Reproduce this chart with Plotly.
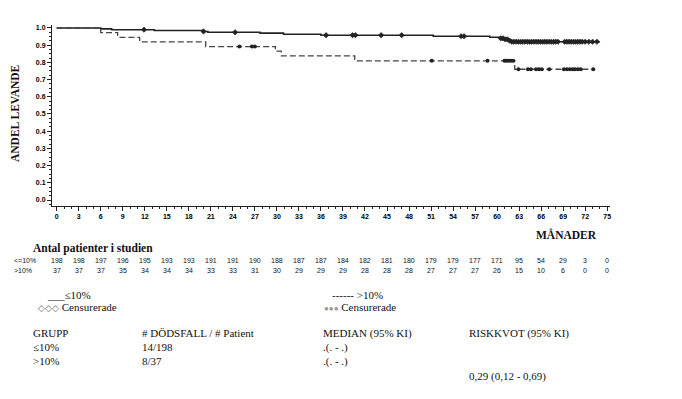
import numpy as np
import plotly.graph_objects as go

# ---------------- data ----------------
# Kaplan-Meier step curves (time in months, survival proportion)
times_le = [0, 6.0, 7.5, 13.3, 19.9, 20.6, 27.7, 30.9, 36.0, 51.3, 59.0, 60.3, 61.0, 61.5, 61.9, 74.0]
surv_le = [1.0, 0.995, 0.990, 0.985, 0.980, 0.975, 0.970, 0.964, 0.958, 0.952, 0.946, 0.940, 0.934, 0.927, 0.920, 0.920]

times_gt = [0, 6.0, 8.3, 11.3, 20.3, 29.8, 30.6, 40.6, 62.4, 73.1]
surv_gt = [1.0, 0.973, 0.946, 0.919, 0.892, 0.865, 0.838, 0.809, 0.760, 0.760]

# censoring times
cens_le = [11.9, 20.0, 24.3, 36.7, 40.3, 40.7, 44.2, 47.0, 55.1, 55.5, 60.5, 60.8,
           61.1, 61.4, 61.7, 62.0, 62.3, 62.6, 62.9, 63.2, 63.5, 63.8, 64.1, 64.4,
           64.7, 65.0, 65.3, 65.6, 65.9, 66.2, 66.5, 66.8, 67.1, 67.4, 67.7, 68.0,
           68.3, 69.2, 69.5, 69.8, 70.1, 70.4, 70.7, 71.0, 71.3, 71.6, 72.0, 72.5,
           73.0, 73.6]
cens_gt = [24.9, 26.6, 27.0, 51.1, 58.7, 61.0, 61.3, 61.6, 61.9, 62.2, 62.9, 64.2,
           64.6, 65.3, 65.7, 66.1, 67.1, 69.1, 69.5, 69.9, 70.3, 70.6, 71.0, 71.4, 73.1]

# number at risk
risk_times = list(range(0, 76, 3))
risk_le = [198, 198, 197, 196, 195, 193, 193, 191, 191, 190, 188, 187, 187,
           184, 182, 181, 180, 179, 179, 177, 171, 95, 54, 29, 3, 0]
risk_gt = [37, 37, 37, 35, 34, 34, 34, 33, 33, 31, 30, 29, 29,
           29, 28, 28, 28, 27, 27, 27, 26, 15, 10, 6, 0, 0]
risk_labels = ["<=10%", ">10%"]

x_ticks = list(range(0, 76, 3))
y_ticks = [round(v * 0.1, 1) for v in range(11)]

table_header = ["GRUPP", "# DÖDSFALL / # Patient", "MEDIAN (95% KI)", "RISKKVOT (95% KI)"]
table_rows = [["≤10%", "14/198", ".(. - .)"], [">10%", "8/37", ".(. - .)"]]
hazard_ratio = "0,29 (0,12 - 0,69)"

# ---------------- layout geometry ----------------
W, H = 682, 399
L, R, T, B = 52, 610, 25, 206   # plot area in pixels


def px_x(p):
    return (p - L) / (R - L)


def px_y(p):
    return (B - p) / (B - T)


def step_val(ts, ss, t):
    i = np.searchsorted(np.array(ts), t, side="right") - 1
    return ss[max(i, 0)]


fig = go.Figure()

fig.add_trace(go.Scatter(x=times_le, y=surv_le, mode="lines", line_shape="hv",
                         line=dict(color="#222222", width=1.6), showlegend=False))
fig.add_trace(go.Scatter(x=times_gt, y=surv_gt, mode="lines", line_shape="hv",
                         line=dict(color="#444444", width=1.3, dash="6px,3px"), showlegend=False))
fig.add_trace(go.Scatter(x=cens_le, y=[step_val(times_le, surv_le, t) for t in cens_le],
                         mode="markers", showlegend=False,
                         marker=dict(symbol="diamond", size=4, color="#222222",
                                     line=dict(width=0.8, color="#222222"))))
fig.add_trace(go.Scatter(x=cens_gt, y=[step_val(times_gt, surv_gt, t) for t in cens_gt],
                         mode="markers", showlegend=False,
                         marker=dict(symbol="circle", size=4, color="#222222")))

tickfont = dict(family="Arial, Liberation Sans", size=7, color="#000000", weight="bold")
fig.update_xaxes(range=[-0.64, 75.38], tickmode="array", tickvals=x_ticks,
                 ticktext=[f"<b>{v}</b>" for v in x_ticks], showline=True, linecolor="#222",
                 linewidth=1, ticks="outside", ticklen=4, tickcolor="#222",
                 tickfont=tickfont, showgrid=False, zeroline=False,
                 minor=dict(dtick=1, tick0=0, ticks="outside", ticklen=2, tickcolor="#222"))
fig.update_yaxes(range=[-0.0349, 1.0174], tickmode="array", tickvals=y_ticks,
                 ticktext=[f"<b>{v:.1f}</b>" for v in y_ticks], showline=True, linecolor="#222",
                 linewidth=1, ticks="outside", ticklen=4, tickcolor="#222",
                 tickfont=tickfont, showgrid=False, zeroline=False,
                 minor=dict(dtick=0.025, tick0=0, ticks="outside", ticklen=2, tickcolor="#222"))

serif = "'Times New Roman', 'Liberation Serif', serif"
ann = []
ann.append(dict(text="<b>ANDEL LEVANDE</b>", x=px_x(15), y=px_y(113), textangle=-90,
                font=dict(family=serif, size=11.5, color="#111")))
ann.append(dict(text="<b>MÅNADER</b>", x=px_x(599), y=px_y(234), xanchor="right",
                font=dict(family=serif, size=11.5, color="#111")))
ann.append(dict(text="<b>Antal patienter i studien</b>", x=px_x(31), y=px_y(248), xanchor="left",
                font=dict(family=serif, size=11.5, color="#111")))

narrow = "'Arial Narrow', 'Liberation Sans Narrow', 'Liberation Sans'"
for lab, vals, ypix in [(risk_labels[0], risk_le, 260), (risk_labels[1], risk_gt, 270.5)]:
    ann.append(dict(text=lab, x=px_x(12), y=px_y(ypix), xanchor="left",
                    font=dict(family=narrow, size=7, color="#111")))
    for t, v in zip(risk_times, vals):
        ann.append(dict(text=str(v), x=t, xref="x", y=px_y(ypix),
                        font=dict(family=narrow, size=7, color="#111")))

f11 = dict(family=serif, size=11, color="#111")
ann.append(dict(text="___≤10%", x=px_x(45), y=px_y(295), xanchor="left", font=f11))
ann.append(dict(text="<span style='color:#666;font-size:9px'>◇◇◇</span> Censurerade",
                x=px_x(36), y=px_y(307), xanchor="left", font=f11))
ann.append(dict(text="------ >10%", x=px_x(330), y=px_y(295), xanchor="left", font=f11))
ann.append(dict(text="<span style='color:#999;font-size:8px'>●●●</span> Censurerade",
                x=px_x(322), y=px_y(307), xanchor="left", font=f11))

col_x = [31, 140, 321, 467]
for cx, h in zip(col_x, table_header):
    ann.append(dict(text=h, x=px_x(cx), y=px_y(333), xanchor="left", font=f11))
for row, ypix in zip(table_rows, [347.5, 361]):
    for cx, cell in zip(col_x, row):
        ann.append(dict(text=cell, x=px_x(cx), y=px_y(ypix), xanchor="left", font=f11))
ann.append(dict(text=hazard_ratio, x=px_x(467), y=px_y(376), xanchor="left", font=f11))

for a in ann:
    a.setdefault("xref", "paper")
    a["yref"] = "paper"
    a["showarrow"] = False
    a.setdefault("xanchor", "center")
    a["yanchor"] = "middle"

fig.update_layout(width=W, height=H, autosize=False,
                  margin=dict(l=L, r=W - R, t=T, b=H - B),
                  paper_bgcolor="white", plot_bgcolor="white",
                  annotations=ann, showlegend=False)

fig.write_html("out.html", config={"displayModeBar": False},
               post_script="document.body.style.margin='0px';document.body.style.overflow='hidden';")
